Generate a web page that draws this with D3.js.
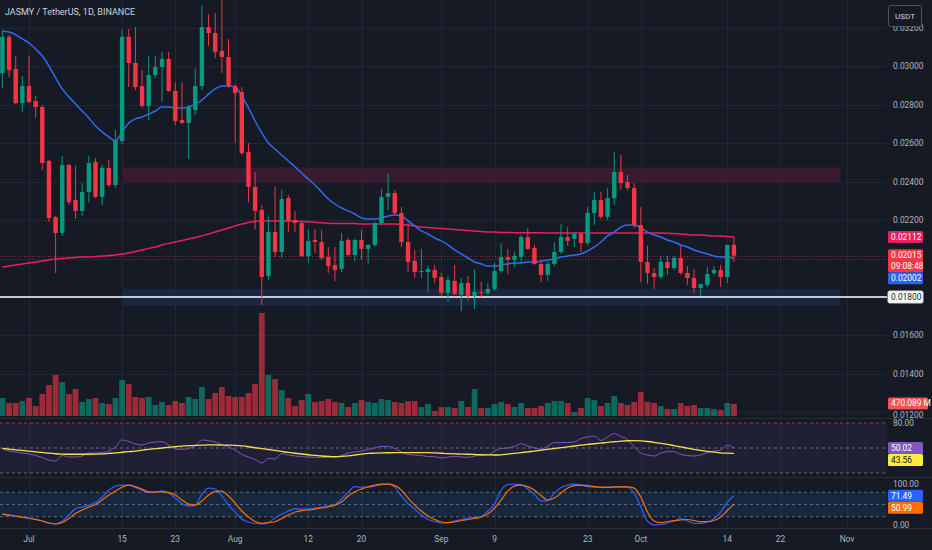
<!DOCTYPE html>
<html lang="en">
<head>
<meta charset="UTF-8">
<title>JASMY / TetherUS, 1D, BINANCE</title>
<script src="https://d3js.org/d3.v7.min.js"></script>
<style>
  body { margin: 0; background: #161a25; }
  svg { display: block; font-family: Roboto, "Noto Sans", sans-serif; }
</style>
</head>
<body>
<div id="container"></div>
<script>
const width = 932;
const height = 550;
const plotRight = 887;

// daily candles, first bar 2024-06-27
const firstDay = new Date(2024, 5, 27);
const opens = [
  0.02965,0.03154,0.02987,0.02809,0.02898,0.02820,0.02789,0.02508,0.02216,0.02133,
  0.02487,0.02305,0.02248,0.02347,0.02503,0.02321,0.02472,0.02383,0.02612,0.03154,
  0.03018,0.02898,0.02794,0.02955,0.02997,0.03039,0.02872,0.02721,0.02706,0.02773,
  0.02898,0.03205,0.03174,0.03081,0.03049,0.02898,0.02867,0.02554,0.02373,0.02253,
  0.01909,0.02139,0.02034,0.02315,0.02201,0.02185,0.02014,0.02097,0.02086,0.02008,
  0.01966,0.01946,0.02097,0.02019,0.02097,0.02050,0.02071,0.02185,0.02321,0.02341,
  0.02237,0.02086,0.01988,0.01930,0.01930,0.01941,0.01904,0.01821,0.01884,0.01811,
  0.01873,0.01806,0.01826,0.01821,0.01842,0.01935,0.02008,0.01993,0.02008,0.02112,
  0.02055,0.01972,0.01915,0.01972,0.02034,0.02112,0.02102,0.02128,0.02081,0.02237,
  0.02305,0.02217,0.02315,0.02450,0.02398,0.02367,0.02175,0.01982,0.01925,0.01904,
  0.01982,0.01951,0.02003,0.01925,0.01899,0.01847,0.01863,0.01925,0.01941,0.01904,
  0.02071
];
const highs = [
  0.03190,0.03164,0.03055,0.02950,0.03055,0.02846,0.02799,0.02513,0.02222,0.02534,
  0.02492,0.02482,0.02393,0.02534,0.02523,0.02487,0.02513,0.02669,0.03190,0.03195,
  0.03206,0.02981,0.03055,0.03055,0.03076,0.03076,0.02919,0.02919,0.02799,0.02992,
  0.03315,0.03273,0.03278,0.03356,0.03143,0.02908,0.02893,0.02601,0.02450,0.02279,
  0.02217,0.02378,0.02357,0.02331,0.02248,0.02191,0.02154,0.02154,0.02149,0.02060,
  0.02060,0.02133,0.02107,0.02102,0.02149,0.02076,0.02191,0.02362,0.02445,0.02357,
  0.02268,0.02185,0.02045,0.02050,0.01962,0.01967,0.01925,0.01909,0.01967,0.01899,
  0.01909,0.01946,0.01878,0.01873,0.01977,0.02081,0.02050,0.02034,0.02123,0.02159,
  0.02071,0.01993,0.01982,0.02086,0.02180,0.02164,0.02139,0.02139,0.02268,0.02347,
  0.02347,0.02367,0.02555,0.02539,0.02435,0.02393,0.02268,0.02066,0.01951,0.02014,
  0.02014,0.02014,0.02066,0.01962,0.01946,0.01868,0.01956,0.01962,0.01967,0.02071,
  0.02112
];
const lows = [
  0.02887,0.02945,0.02804,0.02763,0.02809,0.02731,0.02461,0.02191,0.01925,0.02118,
  0.02279,0.02206,0.02222,0.02294,0.02315,0.02279,0.02373,0.02367,0.02596,0.02893,
  0.02877,0.02784,0.02721,0.02940,0.02815,0.02867,0.02695,0.02700,0.02518,0.02747,
  0.02877,0.03106,0.03044,0.02965,0.02887,0.02601,0.02539,0.02294,0.02149,0.01758,
  0.01889,0.02008,0.02003,0.02139,0.02139,0.02008,0.01977,0.02029,0.01993,0.01925,
  0.01883,0.01930,0.02008,0.01988,0.01993,0.01972,0.02060,0.02175,0.02253,0.02227,
  0.02060,0.01930,0.01899,0.01899,0.01826,0.01873,0.01806,0.01775,0.01811,0.01727,
  0.01780,0.01737,0.01800,0.01811,0.01832,0.01925,0.01920,0.01956,0.01977,0.02045,
  0.01967,0.01878,0.01884,0.01961,0.02024,0.02066,0.02060,0.02034,0.02071,0.02175,
  0.02206,0.02201,0.02279,0.02357,0.02357,0.02159,0.01878,0.01868,0.01842,0.01894,
  0.01915,0.01941,0.01915,0.01863,0.01821,0.01806,0.01852,0.01915,0.01852,0.01873,
  0.01982
];
const closes = [
  0.03154,0.02981,0.02809,0.02898,0.02815,0.02789,0.02497,0.02211,0.02133,0.02487,
  0.02294,0.02248,0.02347,0.02497,0.02321,0.02472,0.02383,0.02617,0.03154,0.03018,
  0.02893,0.02794,0.02955,0.02997,0.03039,0.02872,0.02716,0.02706,0.02789,0.02898,
  0.03205,0.03174,0.03076,0.03049,0.02898,0.02861,0.02549,0.02373,0.02248,0.01904,
  0.02139,0.02034,0.02310,0.02196,0.02185,0.02014,0.02092,0.02086,0.02003,0.01961,
  0.01941,0.02092,0.02019,0.02097,0.02050,0.02071,0.02185,0.02321,0.02341,0.02237,
  0.02086,0.01982,0.01930,0.01935,0.01946,0.01899,0.01821,0.01889,0.01816,0.01873,
  0.01806,0.01826,0.01821,0.01842,0.01935,0.02008,0.01993,0.02014,0.02112,0.02050,
  0.01972,0.01915,0.01972,0.02034,0.02112,0.02092,0.02128,0.02081,0.02237,0.02305,
  0.02217,0.02315,0.02450,0.02393,0.02367,0.02175,0.01982,0.01925,0.01904,0.01982,
  0.01951,0.02003,0.01925,0.01899,0.01847,0.01868,0.01920,0.01941,0.01904,0.02071,
  0.02015
];
// volume in millions
const volumes = [
  706,510,510,588,706,392,862,1215,1607,1333,
  862,1058,549,666,706,510,470,706,1411,1254,
  745,706,745,431,549,431,588,510,745,666,
  1137,666,902,1137,784,745,745,902,1254,4038,
  1607,1450,1019,706,392,627,862,549,588,666,
  549,510,353,510,627,549,510,666,627,549,
  510,588,588,353,470,196,353,353,314,588,
  353,1058,314,314,470,549,470,353,510,314,
  314,392,510,588,588,510,157,314,706,627,
  392,510,784,510,431,549,941,549,510,392,
  274,274,510,392,431,314,314,274,235,510,
  470.089
];
const maFast = [
  0.03184,0.03179,0.03164,0.03143,0.03122,0.03091,0.03054,0.03002,0.02940,0.02883,
  0.02841,0.02804,0.02768,0.02732,0.02690,0.02659,0.02633,0.02612,0.02659,0.02706,
  0.02727,0.02737,0.02752,0.02768,0.02789,0.02789,0.02784,0.02784,0.02789,0.02804,
  0.02825,0.02856,0.02883,0.02898,0.02898,0.02893,0.02846,0.02784,0.02716,0.02654,
  0.02602,0.02570,0.02539,0.02508,0.02477,0.02445,0.02414,0.02383,0.02347,0.02310,
  0.02284,0.02263,0.02248,0.02232,0.02211,0.02206,0.02206,0.02211,0.02222,0.02227,
  0.02222,0.02196,0.02170,0.02144,0.02128,0.02107,0.02092,0.02071,0.02045,0.02024,
  0.02003,0.01982,0.01972,0.01961,0.01961,0.01967,0.01972,0.01977,0.01977,0.01982,
  0.01982,0.01987,0.01993,0.01998,0.02008,0.02013,0.02019,0.02024,0.02040,0.02060,
  0.02086,0.02118,0.02138,0.02164,0.02175,0.02175,0.02159,0.02138,0.02123,0.02112,
  0.02097,0.02086,0.02071,0.02060,0.02045,0.02034,0.02024,0.02013,0.02008,0.02008,
  0.02002
];
const maSlow = [
  0.01956,0.01961,0.01967,0.01972,0.01977,0.01982,0.01987,0.01993,0.01998,0.02000,
  0.02003,0.02006,0.02008,0.02008,0.02011,0.02013,0.02016,0.02019,0.02024,0.02029,
  0.02037,0.02045,0.02053,0.02060,0.02071,0.02079,0.02086,0.02094,0.02102,0.02110,
  0.02118,0.02128,0.02138,0.02149,0.02159,0.02170,0.02180,0.02188,0.02193,0.02196,
  0.02196,0.02196,0.02196,0.02196,0.02196,0.02194,0.02192,0.02189,0.02186,0.02184,
  0.02183,0.02183,0.02183,0.02182,0.02180,0.02180,0.02180,0.02180,0.02180,0.02180,
  0.02177,0.02175,0.02170,0.02164,0.02162,0.02159,0.02156,0.02154,0.02151,0.02149,
  0.02146,0.02144,0.02141,0.02138,0.02138,0.02136,0.02136,0.02135,0.02135,0.02134,
  0.02134,0.02134,0.02133,0.02133,0.02133,0.02133,0.02133,0.02133,0.02133,0.02133,
  0.02133,0.02133,0.02133,0.02133,0.02133,0.02133,0.02133,0.02133,0.02133,0.02133,
  0.02132,0.02130,0.02128,0.02125,0.02123,0.02123,0.02120,0.02118,0.02118,0.02115,
  0.02112
];
const rsi = [
  48.8,46.4,45.2,44.0,42.8,41.0,38.6,35.6,34.4,41.0,
  39.2,39.2,40.4,44.0,44.0,44.6,46.4,51.2,59.6,57.8,
  54.8,53.6,56.0,57.2,57.6,53.6,48.8,48.4,49.4,52.4,
  59.6,58.8,57.2,54.2,51.2,47.6,42.2,39.2,36.2,32.0,
  37.6,36.8,43.4,41.6,40.4,39.6,39.2,38.8,38.8,38.8,
  38.8,41.0,44.0,45.2,46.4,48.2,50.0,51.8,51.8,49.4,
  45.2,42.2,41.6,41.0,39.8,39.6,38.0,39.2,39.8,39.2,
  38.8,40.4,41.6,41.6,46.4,49.4,50.0,51.8,55.2,52.4,
  50.0,48.4,52.4,56.4,56.4,56.6,57.2,61.4,63.2,64.4,
  59.0,63.2,67.4,63.8,60.2,51.2,44.0,41.6,40.4,44.0,
  45.6,45.6,42.2,41.0,40.4,41.6,44.6,46.4,47.6,53.6,
  50.02
];
const rsiMa = [
  49.6,48.7,47.8,47.1,46.2,45.4,44.7,43.8,43.1,42.7,
  42.5,42.5,42.5,42.5,42.7,42.9,43.5,44.1,44.9,45.6,
  46.3,47.4,48.4,49.3,50.0,50.9,51.5,52.2,52.8,53.2,
  53.5,53.7,53.7,53.5,53.5,53.2,52.5,51.5,50.3,49.3,
  48.2,47.1,45.9,44.7,43.7,42.8,41.9,41.2,40.4,39.9,
  39.6,39.9,40.6,41.6,42.7,43.5,43.8,44.1,44.3,44.4,
  44.4,44.4,44.4,44.4,44.4,44.1,43.7,43.2,42.9,42.7,
  42.5,42.2,41.9,41.8,41.6,41.8,42.7,43.5,44.4,45.4,
  46.3,47.4,48.4,49.4,50.4,51.3,52.4,53.4,54.4,55.1,
  55.9,56.8,57.5,58.2,58.7,58.8,58.5,57.8,56.8,55.6,
  54.3,52.8,51.3,49.9,48.4,47.1,46.0,45.1,44.2,43.8,
  43.56
];
const stochK = [
  26.5,24,20.4,18,15.5,13,9.3,4.4,2,9.3,
  24,40,43.7,48.6,54.8,68.3,85.5,95.3,97.8,97.8,
  91.6,85.5,79.4,80.6,83.8,78.1,65.8,52.3,46.2,48.6,
  75.7,90.4,88,71.5,48.6,31.4,14.3,6.9,3.2,2,
  5.7,16.7,26.5,33.9,40,38.8,38.8,41.3,43.7,46.2,
  49.9,63.4,80.6,94.1,92.9,92.9,95.3,99,100,92.9,
  70.8,52.3,38.8,24,13,8.1,4.4,5.7,9.3,13,
  16.7,18,20.4,33.9,51.1,85.5,99,100,99,88,
  74.4,58.5,59.7,78.1,91.6,97.8,100,97.8,94.1,92.9,
  92.1,92.1,93.6,93.6,92.9,78.1,43.7,9.3,0,0.7,
  4.4,9.3,15.5,9.3,3.7,3.7,6.9,15.5,31.4,56,
  71.49
];
const stochD = [
  26.5,24,21.6,19.2,16.7,13.5,9.3,4.4,2,5.7,
  15.5,27.8,36.4,43.7,49.9,61,73.2,83,92.9,97.8,
  94.1,88,81.3,80.6,81.3,79.4,73.2,61,51.1,48.6,
  58.5,73.2,81.8,83,70.8,53.6,33.9,19.2,8.1,3.7,
  5.2,7.6,15.5,24,31.4,35.1,36.4,38.8,41.3,44.5,
  48.6,56,70.8,81.3,88,93.6,97.8,100,100,96.6,
  85.5,65.8,48.6,33.9,21.6,13,6.9,5.2,6.9,10.6,
  13,15.5,19.2,26.5,41.3,61,83,95.3,97.8,94.1,
  85.5,72,61,65.8,78.1,90.4,96.6,97.8,96.6,94.1,
  92.9,92.1,92.9,93.6,93.6,90.4,68.3,31.4,9.3,5.2,
  8.1,10.1,12.3,13,10.6,7.6,7.6,10.6,19.2,35.1,
  50.99
];

const priceTicks = [0.032, 0.030, 0.028, 0.026, 0.024, 0.022, 0.016, 0.014, 0.012];
const priceGrid = [0.032, 0.030, 0.028, 0.026, 0.024, 0.022, 0.020, 0.018, 0.016, 0.014, 0.012];
const timeTicks = [
  ['2024-07-01', 'Jul'], ['2024-07-15', '15'], ['2024-07-23', '23'], ['2024-08-01', 'Aug'],
  ['2024-08-12', '12'], ['2024-08-20', '20'], ['2024-09-01', 'Sep'], ['2024-09-09', '9'],
  ['2024-09-23', '23'], ['2024-10-01', 'Oct'], ['2024-10-14', '14'], ['2024-10-22', '22'],
  ['2024-11-01', 'Nov']
];
// drawn zones [from date, to date, top price, bottom price]
const resistanceZone = ['2024-07-15', '2024-10-31', 0.02475, 0.02395];
const supportZone = ['2024-07-15', '2024-10-31', 0.01842, 0.01755];
const supportLine = 0.018;

const parse = d3.timeParse('%Y-%m-%d');
const dates = opens.map((_, i) => d3.timeDay.offset(firstDay, i));
const bars = dates.map((d, i) => ({
  date: d, o: opens[i], h: highs[i], l: lows[i], c: closes[i], v: volumes[i],
  up: closes[i] >= opens[i]
}));
const last = a => a[a.length - 1];

const x = d3.scaleTime().domain([firstDay, new Date(2024, 10, 1)]).range([2.4, 847]);
const y = d3.scaleLinear().domain([0.018, 0.032]).range([297, 28]);
const yVol = d3.scaleLinear().domain([0, 4000]).range([416, 314]);
const yRsi = d3.scaleLinear().domain([20, 80]).range([473, 423]);
const yStoch = d3.scaleLinear().domain([0, 100]).range([524.8, 484.2]);

const upColor = '#089981', downColor = '#f23645';
const axisColor = '#b2b5be', gridColor = '#232733';

const svg = d3.select('#container').append('svg')
  .attr('width', width)
  .attr('height', height);

svg.append('rect').attr('width', width).attr('height', height).attr('fill', '#161a25');

svg.append('clipPath').attr('id', 'main-clip')
  .append('rect').attr('width', plotRight).attr('height', 418);

// grid
const grid = svg.append('g').attr('stroke', gridColor).attr('stroke-width', 1);
grid.selectAll('line.h')
  .data(priceGrid)
  .join('line')
  .attr('class', 'h')
  .attr('x1', 0).attr('x2', plotRight)
  .attr('y1', d => Math.round(y(d)) + 0.5).attr('y2', d => Math.round(y(d)) + 0.5);
grid.selectAll('line.v')
  .data(timeTicks)
  .join('line')
  .attr('class', 'v')
  .attr('x1', d => Math.round(x(parse(d[0]))) + 0.5).attr('x2', d => Math.round(x(parse(d[0]))) + 0.5)
  .attr('y1', 0).attr('y2', 528);

// pane separators
svg.append('g').attr('stroke', '#2a2e39')
  .selectAll('line')
  .data([418.5, 477.5, 528.5])
  .join('line')
  .attr('x1', 0).attr('x2', width)
  .attr('y1', d => d).attr('y2', d => d);

const main = svg.append('g').attr('clip-path', 'url(#main-clip)');

// zones
const zoneRect = (z, fill) => main.append('rect')
  .attr('x', x(parse(z[0])))
  .attr('width', x(parse(z[1])) - x(parse(z[0])))
  .attr('y', y(z[2]))
  .attr('height', y(z[3]) - y(z[2]))
  .attr('fill', fill);
zoneRect(resistanceZone, '#391b30');
zoneRect(supportZone, '#1b2641');

// volume
main.append('g')
  .selectAll('rect')
  .data(bars)
  .join('rect')
  .attr('x', d => x(d.date) - 2.9)
  .attr('width', 5.8)
  .attr('y', d => yVol(d.v))
  .attr('height', d => yVol(0) - yVol(d.v))
  .attr('fill', d => d.up ? 'rgba(8,153,129,0.62)' : 'rgba(242,54,69,0.62)');

// support line and last price line
main.append('line')
  .attr('x1', 0).attr('x2', plotRight)
  .attr('y1', y(supportLine)).attr('y2', y(supportLine))
  .attr('stroke', '#ffffff').attr('stroke-width', 1.5);
main.append('line')
  .attr('x1', 0).attr('x2', plotRight)
  .attr('y1', Math.round(y(last(closes))) + 0.5)
  .attr('y2', Math.round(y(last(closes))) + 0.5)
  .attr('stroke', '#f23645').attr('stroke-opacity', 0.6)
  .attr('stroke-dasharray', '1,2');

// moving averages
const line = d3.line().x((d, i) => x(dates[i])).y(d => y(d)).curve(d3.curveMonotoneX);
main.append('path').attr('d', line(maSlow)).attr('fill', 'none')
  .attr('stroke', '#e91e63').attr('stroke-width', 1.5);
main.append('path').attr('d', line(maFast)).attr('fill', 'none')
  .attr('stroke', '#2e6bf0').attr('stroke-width', 1.5);

// candles
const candles = main.append('g')
  .selectAll('g')
  .data(bars)
  .join('g')
  .attr('fill', d => d.up ? upColor : downColor)
  .attr('stroke', d => d.up ? upColor : downColor);
candles.append('line')
  .attr('x1', d => x(d.date)).attr('x2', d => x(d.date))
  .attr('y1', d => y(d.h)).attr('y2', d => y(d.l));
candles.append('rect')
  .attr('stroke', 'none')
  .attr('x', d => x(d.date) - 2.2)
  .attr('width', 4.4)
  .attr('y', d => y(Math.max(d.o, d.c)))
  .attr('height', d => Math.max(1, Math.abs(y(d.o) - y(d.c))));

// RSI pane
const rsiPane = svg.append('g');
rsiPane.append('rect')
  .attr('x', 0).attr('width', plotRight)
  .attr('y', yRsi(80)).attr('height', yRsi(20) - yRsi(80))
  .attr('fill', 'rgba(126,87,194,0.1)');
rsiPane.selectAll('line')
  .data([[80, '#f23645', 0.7], [50, '#787b86', 0.8], [20, '#787b86', 0.8]])
  .join('line')
  .attr('x1', 0).attr('x2', plotRight)
  .attr('y1', d => yRsi(d[0])).attr('y2', d => yRsi(d[0]))
  .attr('stroke', d => d[1]).attr('stroke-opacity', d => d[2])
  .attr('stroke-dasharray', '3,3');
const rsiLine = d3.line().x((d, i) => x(dates[i])).y(d => yRsi(d)).curve(d3.curveMonotoneX);
rsiPane.append('path').attr('d', rsiLine(rsi)).attr('fill', 'none')
  .attr('stroke', '#7e57c2').attr('stroke-width', 1);
rsiPane.append('path').attr('d', rsiLine(rsiMa)).attr('fill', 'none')
  .attr('stroke', '#f4e04d').attr('stroke-width', 1.3);

// Stoch RSI pane
const stochPane = svg.append('g');
stochPane.append('rect')
  .attr('x', 0).attr('width', plotRight)
  .attr('y', yStoch(80)).attr('height', yStoch(20) - yStoch(80))
  .attr('fill', 'rgba(33,150,243,0.12)');
stochPane.selectAll('line')
  .data([80, 50, 20])
  .join('line')
  .attr('x1', 0).attr('x2', plotRight)
  .attr('y1', d => yStoch(d)).attr('y2', d => yStoch(d))
  .attr('stroke', '#787b86').attr('stroke-opacity', 0.8)
  .attr('stroke-dasharray', '3,3');
const stochLine = d3.line().x((d, i) => x(dates[i])).y(d => yStoch(d)).curve(d3.curveMonotoneX);
stochPane.append('path').attr('d', stochLine(stochK)).attr('fill', 'none')
  .attr('stroke', '#2962ff').attr('stroke-width', 1.2);
stochPane.append('path').attr('d', stochLine(stochD)).attr('fill', 'none')
  .attr('stroke', '#ff6d00').attr('stroke-width', 1.2);

// right axis labels (the lowest one sits just under the volume tag)
const axisText = svg.append('g')
  .attr('font-size', 8.4)
  .attr('fill', axisColor);
axisText.selectAll('text.p')
  .data(priceTicks)
  .join('text')
  .attr('class', 'p')
  .attr('x', 893).attr('y', d => d === 0.012 ? y(d) + 2.5 : y(d))
  .attr('dy', '0.35em')
  .text(d => d.toFixed(5));
axisText.append('text').attr('x', 893).attr('y', yRsi(80)).attr('dy', '0.35em').text('80.00');
axisText.selectAll('text.s')
  .data([100, 0])
  .join('text')
  .attr('class', 's')
  .attr('x', 893).attr('y', d => yStoch(d)).attr('dy', '0.35em')
  .text(d => d.toFixed(2));

// time axis
axisText.selectAll('text.t')
  .data(timeTicks)
  .join('text')
  .attr('class', 't')
  .attr('x', d => x(parse(d[0])))
  .attr('y', 539)
  .attr('dy', '0.35em')
  .attr('text-anchor', 'middle')
  .text(d => d[1]);

// value tags on the price scale; returns the bottom edge
function tag(top, lines, bg, fg, border, w) {
  const h = 11 * lines.length + 1;
  const g = svg.append('g');
  g.append('rect')
    .attr('x', 888).attr('y', top).attr('width', w || 35).attr('height', h)
    .attr('rx', 1.5)
    .attr('fill', bg)
    .attr('stroke', border || 'none');
  lines.forEach((t, k) => g.append('text')
    .attr('x', 891).attr('y', top + 6 + k * 11)
    .attr('dy', '0.35em')
    .attr('font-size', 8.4)
    .attr('fill', fg)
    .text(t));
  return top + h;
}
tag(y(last(maSlow)) - 6, [last(maSlow).toFixed(5)], '#e91e63', '#ffffff');
const priceBottom = tag(y(last(closes)) - 6.5, [last(closes).toFixed(5), '09:08:48'], '#f23645', '#ffffff');
tag(priceBottom, [last(maFast).toFixed(5)], '#2962ff', '#ffffff');
tag(y(supportLine) - 6, [supportLine.toFixed(5)], '#ffffff', '#131722', '#d1d4dc');
tag(yVol(last(volumes)) - 6.5, [last(volumes).toFixed(3) + ' M'], '#f05350', '#ffffff', null, 40);
const rsiBottom = tag(yRsi(last(rsi)) - 6, [last(rsi).toFixed(2)], '#7e57c2', '#ffffff');
tag(rsiBottom, [last(rsiMa).toFixed(2)], '#ffeb3b', '#131722');
const stochBottom = tag(yStoch(last(stochK)) - 6, [last(stochK).toFixed(2)], '#2962ff', '#ffffff');
tag(stochBottom, [last(stochD).toFixed(2)], '#ff6d00', '#ffffff');

// title and currency box
svg.append('text')
  .attr('x', 5).attr('y', 15)
  .attr('font-size', 9)
  .attr('fill', '#d1d4dc')
  .text('JASMY / TetherUS, 1D, BINANCE');
svg.append('rect')
  .attr('x', 888.5).attr('y', 5.5).attr('width', 33).attr('height', 21)
  .attr('rx', 2)
  .attr('fill', '#161a25').attr('stroke', '#50535e');
svg.append('text')
  .attr('x', 905).attr('y', 16).attr('dy', '0.35em')
  .attr('text-anchor', 'middle')
  .attr('font-size', 8)
  .attr('fill', '#d1d4dc')
  .text('USDT');
</script>
</body>
</html>
